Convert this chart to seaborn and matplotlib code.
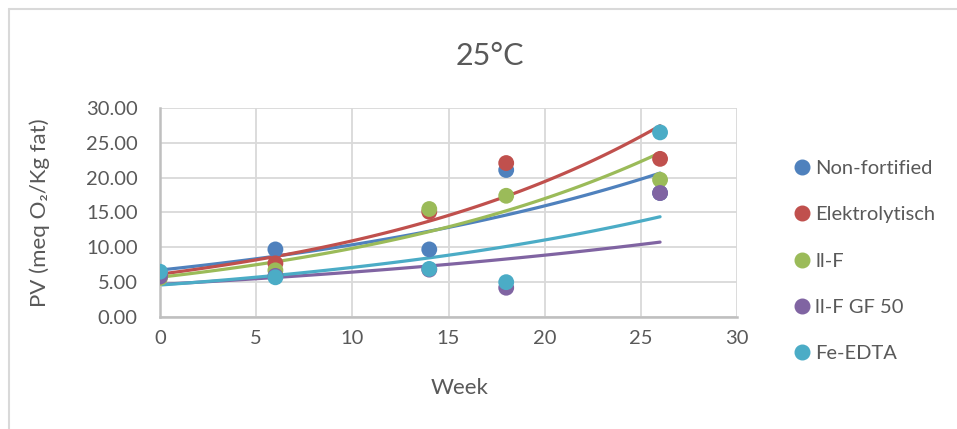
import matplotlib
matplotlib.use("Agg")
import matplotlib.pyplot as plt
import numpy as np
import pandas as pd
import seaborn as sns
from matplotlib.lines import Line2D

weeks = [0, 6, 14, 18, 26]
series_names = ["Non-fortified", "Elektrolytisch", "ll-F", "ll-F GF 50", "Fe-EDTA"]
non_fortified = [6.2, 9.7, 9.7, 21.1, 17.8]
elektrolytisch = [6.0, 7.7, 15.1, 22.1, 22.7]
ll_f = [5.6, 6.7, 15.5, 17.4, 19.7]
ll_f_gf50 = [5.8, 5.9, 6.8, 4.2, 17.8]
fe_edta = [6.5, 5.7, 6.9, 5.0, 26.5]
colors = ["#4F81BD", "#C0504D", "#9BBB59", "#8064A2", "#4BACC6"]

values = [non_fortified, elektrolytisch, ll_f, ll_f_gf50, fe_edta]
df = pd.DataFrame({
    "Week": weeks * len(series_names),
    "PV": np.concatenate(values),
    "Series": np.repeat(series_names, len(weeks)),
})

sns.set_theme(style="white")
plt.rcParams["font.family"] = ["Lato", "DejaVu Sans"]
text_color = "#595959"

fig = plt.figure(figsize=(9.57, 4.29), dpi=100)
ax = fig.add_axes([160 / 957, 1 - 317 / 429, 577 / 957, 209 / 429])

# exponential trendlines (Excel style), drawn first so points sit on top
xs = np.linspace(0, 26, 100)
for name, vals, c in zip(series_names, values, colors):
    b, a = np.polyfit(weeks, np.log(vals), 1)
    sns.lineplot(x=xs, y=np.exp(a + b * xs), color=c, lw=2.3, ax=ax,
                 legend=False, zorder=2)

sns.scatterplot(data=df, x="Week", y="PV", hue="Series", palette=colors,
                s=130, edgecolor="none", ax=ax, legend=False, zorder=3)

ax.set_xlim(0, 30)
ax.set_ylim(0, 30)
ax.set_xticks(range(0, 31, 5))
ax.set_yticks(range(0, 31, 5))
ax.set_yticklabels([f"{v:.2f}" for v in range(0, 31, 5)])
ax.grid(True, color="#D9D9D9", lw=1.3)
ax.set_axisbelow(True)
for side in ["top", "right"]:
    ax.spines[side].set_visible(False)
for side in ["left", "bottom"]:
    ax.spines[side].set_color("#BFBFBF")
    ax.spines[side].set_linewidth(1.8)
ax.tick_params(axis="y", colors=text_color, labelsize=14.5, length=0, pad=16)
ax.tick_params(axis="x", colors=text_color, labelsize=14.5, length=0, pad=9)
ax.set_xlabel("Week", fontsize=16, color=text_color)
ax.set_ylabel("PV (meq O\u2082/Kg fat)", fontsize=16, color=text_color)
ax.xaxis.set_label_coords(0.52, -0.29)
ax.yaxis.set_label_coords(-0.19, 0.5)

fig.text(490 / 957, 1 - 56 / 429, "25\u00b0C", ha="center", va="center",
         fontsize=22, color=text_color)

handles = [Line2D([], [], marker="o", ls="none", color=c, markersize=10.5)
           for c in colors]
fig.legend(handles, series_names, loc="upper left",
           bbox_to_anchor=(782 / 957, 1 - 152 / 429), frameon=False,
           fontsize=14.5, labelcolor=text_color, handletextpad=0.05,
           labelspacing=1.45, handlelength=1.2, borderaxespad=0)

# chart border
fig.add_artist(Line2D([9 / 957, 1], [1 - 9 / 429] * 2, color="#D9D9D9", lw=1.5))
fig.add_artist(Line2D([9 / 957] * 2, [0, 1 - 9 / 429], color="#D9D9D9", lw=1.5))

fig.savefig("out.png", dpi=100)
